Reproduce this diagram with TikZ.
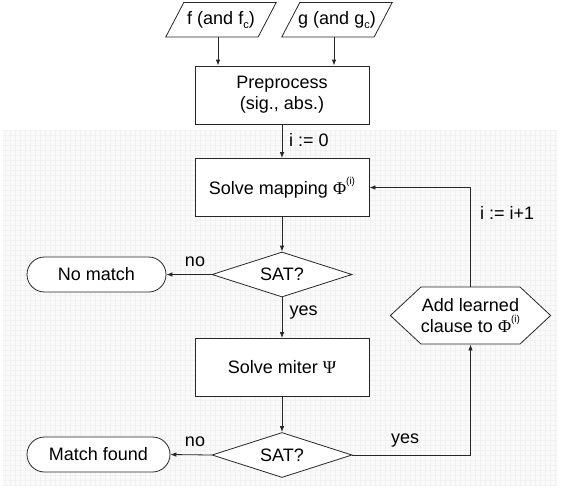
\documentclass[tikz,border=0pt]{standalone}
\usepackage{fontspec}
\setmainfont{Liberation Sans}
\newfontfamily\grk{Liberation Serif}
\usetikzlibrary{shapes.geometric,shapes.symbols,arrows.meta}
\newcommand{\phiiter}{{\grk Φ}\raisebox{0.55em}{\fontsize{10}{10}\selectfont(i)}}
\newcommand{\subc}{\raisebox{-4pt}{\fontsize{11}{11}\selectfont c}}
\begin{document}
\begin{tikzpicture}[x=1pt,y=-1pt,
  font=\fontsize{18}{21}\selectfont,
  line/.style={draw=black!85, line width=0.8pt},
  arr/.style={line, -{Latex[length=6pt,width=4.5pt]}},
  shp/.style={draw=black!85, line width=0.8pt, fill=white, inner sep=0pt, align=center},
  proc/.style={shp, rectangle, minimum width=174pt, minimum height=58pt},
  iobody/.style={rectangle, inner sep=0pt, minimum width=92pt, minimum height=34pt},
  io/.style={line, line join=miter},
  test/.style={shp, diamond, aspect=3.1, minimum width=140pt, minimum height=45pt},
  term/.style={shp, rectangle, rounded corners=17.5pt, minimum height=35pt},
  prep/.style={shp, signal, signal to=west and east, signal pointer angle=86,
               minimum width=155pt, minimum height=57pt},
  lbl/.style={inner sep=0pt}
]
\useasboundingbox (0,0) rectangle (561,488);

% grid paper behind the loop
\fill[gray!4] (3,130) rectangle (557,485);
\draw[gray!11, line width=0.25pt, step=5pt] (3,130) grid (557,485);

% inputs: slanted data boxes around the text nodes
\node[iobody] (f) at (221,19.7) {f (and f\subc)};
\node[iobody] (g) at (337,19.7) {g (and g\subc)};
\foreach \n in {f,g}
  \draw[io] ([xshift=-9pt]\n.south west) -- ([xshift=9pt]\n.north west)
         -- ([xshift=9pt]\n.north east) -- ([xshift=-9pt]\n.south east) -- cycle;

\node[proc] (pre) at (282,95) {Preprocess\\(sig., abs.)};

% main loop
\node[proc] (map) at (282,187.5) {Solve mapping \phiiter};
\node[test] (sat1) at (282,274.5) {SAT?};
\node[term, minimum width=139pt] (nomatch) at (96.5,274.5) {No match};
\node[proc] (miter) at (282,367.5) {Solve miter {\grk Ψ}};
\node[test] (sat2) at (282,455) {SAT?};
\node[term, minimum width=143pt] (found) at (98.5,454.5) {Match found};
\node[prep] (learn) at (470.5,315.5) {Add learned\\clause to \phiiter};

% connectors
\draw[arr] ([xshift=-3pt]f.south) -- ([xshift=-3pt]f.south |- pre.north);
\draw[arr] ([xshift=-3pt]g.south) -- ([xshift=-3pt]g.south |- pre.north);
\draw[arr] (pre) -- (map);
\node[lbl, anchor=west] (l0) at (289,140) {i := 0};
\draw[arr] (map) -- (sat1);
\draw[arr] (sat1.west) -- (nomatch.east);
\node[lbl] (lno1) at (195,262) {no};
\draw[arr] (sat1) -- (miter);
\node[lbl] (lyes1) at (303.5,313) {yes};
\draw[arr] (miter) -- (sat2);
\draw[arr] (sat2.west) -- (found.east);
\node[lbl] (lno2) at (195,442) {no};
\draw[arr] (sat2.east) -| (learn.south);
\node[lbl] (lyes2) at (405,441) {yes};
\draw[arr] (learn.north) |- (map.east);
\node[lbl, anchor=west] (linc) at (480,213) {i := i+1};
\end{tikzpicture}
\end{document}
